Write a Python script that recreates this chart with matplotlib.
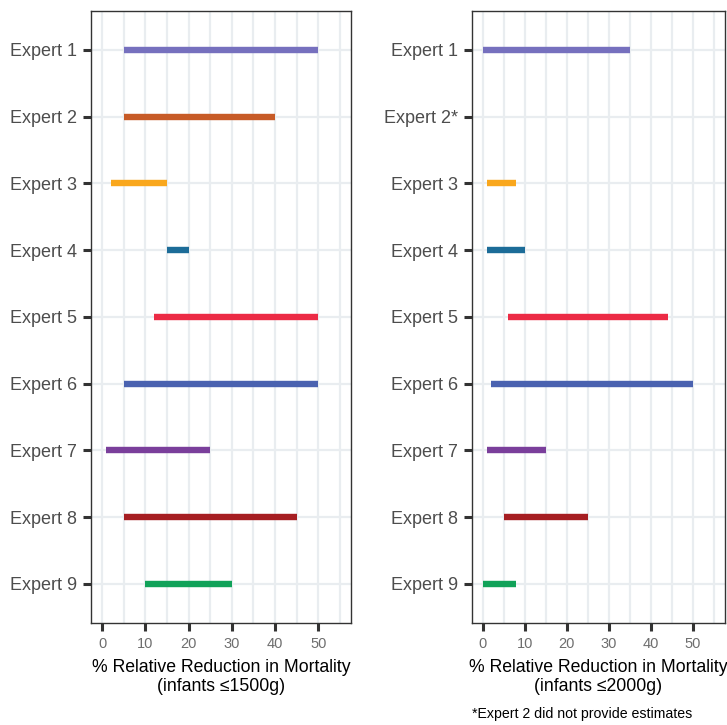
import numpy as np
import matplotlib
matplotlib.use("Agg")
from matplotlib import pyplot as plt
from matplotlib.ticker import MultipleLocator

plt.rcParams["font.family"] = ["Liberation Sans", "DejaVu Sans"]

experts = ["Expert 1", "Expert 2", "Expert 3", "Expert 4", "Expert 5",
           "Expert 6", "Expert 7", "Expert 8", "Expert 9"]
experts_2000 = ["Expert 1", "Expert 2*", "Expert 3", "Expert 4", "Expert 5",
                "Expert 6", "Expert 7", "Expert 8", "Expert 9"]
colors = ["#7670BE", "#C75B27", "#F9A71D", "#1C6C98", "#EC2B45",
          "#4A62B0", "#7A3F9B", "#A61E22", "#11A259"]

# ranges (low, high), infants <=1500g
low_1500 = [5, 5, 2, 15, 12, 5, 1, 5, 10]
high_1500 = [50, 40, 15, 20, 50, 50, 25, 45, 30]
# infants <=2000g, Expert 2 gave no estimate
low_2000 = [0, None, 1, 1, 6, 2, 1, 5, 0]
high_2000 = [35, None, 8, 10, 44, 50, 15, 25, 8]

fig = plt.figure(figsize=(7.27, 7.25), dpi=100)
ax1 = fig.add_axes([0.125, 0.141, 0.358, 0.844])
ax2 = fig.add_axes([0.649, 0.141, 0.348, 0.844])


def draw_panel(ax, labels, lows, highs, xlab):
    n = len(labels)
    ypos = np.arange(n)
    for y, lo, hi, c in zip(ypos, lows, highs, colors):
        if lo is None:
            continue
        ax.plot([lo, hi], [y, y], color=c, lw=4.6, solid_capstyle="butt", zorder=3)
    ax.set_yticks(ypos)
    ax.set_yticklabels(labels, fontsize=13, color="#4D4D4D")
    ax.set_ylim(n - 1 + 0.585, -0.585)
    ax.set_xlim(-2.6, 57.6)
    ax.xaxis.set_major_locator(MultipleLocator(10))
    ax.xaxis.set_minor_locator(MultipleLocator(5))
    ax.set_xticks(range(0, 51, 10))
    ax.tick_params(axis="x", which="major", labelsize=10.5, labelcolor="#6E6E6E",
                   length=6, width=2.2, color="#333333", pad=4)
    ax.tick_params(axis="x", which="minor", length=0)
    ax.tick_params(axis="y", length=6, width=2.2, color="#333333", pad=4)
    ax.grid(True, which="both", axis="x", color="#E9EDF0", lw=1.6, zorder=0)
    ax.grid(True, which="major", axis="y", color="#E9EDF0", lw=1.6, zorder=0)
    ax.set_axisbelow(True)
    for s in ax.spines.values():
        s.set_color("#333333")
        s.set_linewidth(1.0)
    ax.set_xlabel(xlab, fontsize=12.7, color="black", labelpad=6, linespacing=1.15)


draw_panel(ax1, experts, low_1500, high_1500,
           "% Relative Reduction in Mortality\n(infants \u22641500g)")
draw_panel(ax2, experts_2000, low_2000, high_2000,
           "% Relative Reduction in Mortality\n(infants \u22642000g)")

fig.text(0.649, 0.006, "*Expert 2 did not provide estimates", fontsize=10.2,
         color="black", ha="left", va="bottom")

fig.savefig("out.png", dpi=100)
